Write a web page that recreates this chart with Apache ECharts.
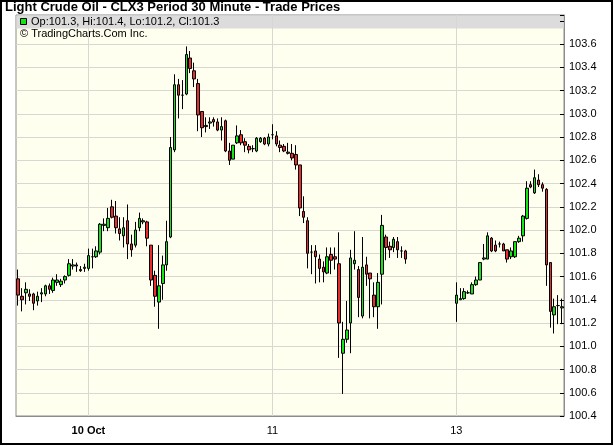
<!DOCTYPE html>
<html><head><meta charset="utf-8">
<script src="https://cdn.jsdelivr.net/npm/echarts@6/dist/echarts.min.js"></script>
<style>html,body{margin:0;padding:0;background:#fff}#c{width:614px;height:446px}</style>
</head><body><div id="c"></div>
<script>
// 30-minute bars, one slot per bar (slots 100-111 have no trades)
const open = [
101.58,101.43,101.46,101.45,101.45,101.39,101.45,101.45,101.52,101.48,
101.55,101.53,101.57,101.61,101.69,101.70,101.66,101.67,101.67,101.77,
101.77,101.81,102.04,102.02,102.20,102.12,102.01,101.95,102.08,101.88,
101.87,102.02,102.07,102.07,101.87,101.61,101.38,101.54,101.70,101.94,
102.69,103.25,103.16,103.17,103.48,103.37,103.26,103.02,102.89,102.92,
102.95,102.93,102.86,102.94,102.68,102.61,102.75,102.82,102.76,102.72,
102.70,102.68,102.76,102.79,102.74,102.82,102.81,102.73,102.72,102.67,
102.66,102.65,102.56,102.16,102.08,101.81,101.82,101.75,101.68,101.63,
101.79,101.77,101.71,100.94,101.06,101.20,101.71,101.66,101.26,101.70,
101.63,101.44,101.34,101.62,101.94,101.86,101.85,101.90,101.82,101.82,
null,null,null,null,null,null,null,null,null,null,null,null,
101.37,101.40,101.41,101.46,101.45,101.53,101.57,101.75,101.75,101.93,
101.87,101.88,101.88,101.83,101.77,101.77,101.90,101.95,102.10,102.39,
102.32,102.43,102.39,102.35,101.72,101.27,101.35,101.33
];
const close = [
101.44,101.40,101.49,101.43,101.37,101.43,101.46,101.52,101.49,101.57,
101.57,101.56,101.60,101.71,101.70,101.69,101.65,101.68,101.78,101.77,
101.82,102.05,102.05,102.10,102.11,102.02,101.97,102.02,101.88,101.83,
102.00,102.10,102.08,101.93,101.57,101.43,101.52,101.70,101.90,102.71,
103.25,103.16,103.16,103.51,103.39,103.30,102.99,102.88,102.90,102.93,
102.93,102.86,102.89,102.68,102.60,102.73,102.81,102.75,102.73,102.69,
102.70,102.79,102.79,102.74,102.80,102.82,102.74,102.71,102.68,102.66,
102.62,102.56,102.19,102.11,101.80,101.81,101.77,101.67,101.64,101.77,
101.74,101.75,101.20,101.06,101.14,101.76,101.74,101.42,101.68,101.62,
101.58,101.34,101.55,102.04,101.85,101.83,101.92,101.83,101.82,101.75,
null,null,null,null,null,null,null,null,null,null,null,null,
101.44,101.41,101.47,101.46,101.53,101.57,101.72,101.76,101.95,101.82,
101.82,101.88,101.82,101.75,101.82,101.90,101.93,102.12,102.36,102.37,
102.45,102.39,102.36,101.70,101.30,101.34,101.35,101.34
];
const high = [
101.66,101.50,101.55,101.49,101.46,101.47,101.50,101.53,101.54,101.59,
101.62,101.58,101.61,101.75,101.75,101.72,101.69,101.71,101.84,101.84,
101.86,102.06,102.10,102.19,102.26,102.25,102.11,102.11,102.22,101.96,
102.07,102.15,102.10,102.08,101.87,101.65,101.87,101.78,102.08,102.80,
103.34,103.30,103.29,103.58,103.54,103.44,103.30,103.02,102.97,102.97,
102.97,102.96,102.97,102.95,102.75,102.73,102.90,102.86,102.79,102.74,
102.73,102.80,102.80,102.80,102.83,102.91,102.85,102.77,102.74,102.75,
102.74,102.73,102.56,102.29,102.11,101.87,101.87,101.79,101.73,101.85,
101.85,101.85,101.98,101.21,101.39,101.83,101.99,101.69,101.94,101.77,
101.63,101.55,101.63,102.13,101.96,101.90,101.94,101.94,101.86,101.83,
null,null,null,null,null,null,null,null,null,null,null,null,
101.55,101.50,101.50,101.48,101.55,101.60,101.72,101.88,101.98,101.94,
101.91,101.90,101.89,101.83,101.85,101.90,101.95,102.13,102.42,102.42,
102.52,102.48,102.41,102.36,101.72,101.41,101.44,101.41
];
const low = [
101.35,101.30,101.36,101.39,101.31,101.35,101.38,101.43,101.45,101.46,
101.52,101.51,101.54,101.60,101.66,101.64,101.64,101.64,101.65,101.67,
101.76,101.79,101.99,101.99,102.10,101.97,101.91,101.85,101.75,101.77,
101.85,101.99,102.05,101.86,101.52,101.34,101.15,101.40,101.65,101.93,
102.67,102.96,103.04,103.16,103.35,103.23,102.85,102.80,102.84,102.87,
102.89,102.85,102.77,102.67,102.56,102.61,102.74,102.73,102.67,102.66,
102.67,102.67,102.75,102.73,102.72,102.78,102.72,102.67,102.67,102.65,
102.60,102.52,102.12,102.06,101.67,101.62,101.54,101.55,101.55,101.62,
101.62,101.66,100.90,100.59,101.03,100.94,101.66,101.25,101.24,101.52,
101.24,101.25,101.15,101.36,101.74,101.76,101.81,101.76,101.76,101.71,
null,null,null,null,null,null,null,null,null,null,null,null,
101.21,101.40,101.40,101.45,101.45,101.52,101.57,101.74,101.75,101.81,
101.81,101.85,101.82,101.72,101.75,101.76,101.89,101.90,102.09,102.36,
102.31,102.37,102.33,101.52,101.16,101.11,101.19,101.19
];
const categories = open.map((_, i) => String(i));
const xTickIndex = [18, 65, 112];
const xTickLabels = ['10 Oct', '11', '13'];
const xTickBold = [true, false, false];
const yMin = 100.4, yTop = 103.85, yStep = 0.2, yLastLabel = 103.6;

const FONT = '"Liberation Sans", Arial, sans-serif';
const GRID = '#d8d8d0';
const UP = '#14e614', DOWN = '#ec2b2b';

const candles = open.map((o, i) => o == null ? '-' : [o, close[i], low[i], high[i]]);
const last = open.length - 1;
const legendText = 'Op:' + open[last].toFixed(1) + ', Hi:' + high[last].toFixed(1) +
  ', Lo:' + low[last].toFixed(1) + ', Cl:' + close[last].toFixed(1);

// split line colours: hide lines above the last labelled value
const yTicks = [];
for (let k = 0; yMin + k * yStep < yTop - 1e-9; k++) yTicks.push(yMin + k * yStep);
yTicks.push(yTop);
const ySplitColors = yTicks.map(v => v <= yLastLabel + 1e-6 ? GRID : 'rgba(0,0,0,0)');

const chart = echarts.init(document.getElementById('c'), null, {renderer: 'canvas'});
chart.setOption({
  animation: false,
  backgroundColor: '#ffffff',
  textStyle: {fontFamily: FONT},
  grid: {left: 16, right: 50, top: 15, bottom: 30, show: true, z: 0,
         backgroundColor: '#fffff0', borderColor: '#8c8c8c', borderWidth: 1},
  xAxis: {
    type: 'category', data: categories, boundaryGap: true, z: 3,
    axisLine: {show: true, lineStyle: {color: '#8c8c8c'}},
    axisTick: {show: false},
    splitLine: {show: true, alignWithLabel: true,
      interval: (idx) => xTickIndex.includes(idx),
      lineStyle: {color: GRID, width: 1}},
    axisLabel: {
      interval: (idx) => xTickIndex.includes(idx),
      margin: 9, color: '#000', fontSize: 11, fontFamily: FONT,
      formatter: (v, idx) => {
        const k = xTickIndex.indexOf(Number(v));
        if (k < 0) return '';
        return xTickBold[k] ? '{b|' + xTickLabels[k] + '}' : xTickLabels[k];
      },
      rich: {b: {fontWeight: 'bold', fontSize: 11, fontFamily: FONT, color: '#000'}}
    }
  },
  yAxis: {
    type: 'value', position: 'right', min: yMin, max: yTop, interval: yStep, z: 3,
    axisLine: {show: true, lineStyle: {color: '#8c8c8c'}},
    axisTick: {show: true, inside: true, length: 4, lineStyle: {color: '#000'}},
    splitLine: {show: true, lineStyle: {color: ySplitColors, width: 1}},
    axisLabel: {margin: 5, color: '#000', fontSize: 11, fontFamily: FONT,
      formatter: v => v <= yLastLabel + 1e-6 ? v.toFixed(1) : ''}
  },
  series: [{
    type: 'candlestick', data: candles, z: 4, barWidth: 3,
    itemStyle: {color: UP, color0: DOWN, borderColor: '#000', borderColor0: '#000',
                borderColorDoji: '#000', borderWidth: 1}
  }],
  graphic: [
    {type: 'rect', z: 1, silent: true, shape: {x: 16.5, y: 15.5, width: 547, height: 13},
     style: {fill: '#dcdcdc'}},
    {type: 'rect', z: 6, silent: true, shape: {x: 20.5, y: 18.5, width: 6, height: 6},
     style: {fill: UP, stroke: '#000', lineWidth: 1}},
    {type: 'text', z: 6, silent: true, x: 31, y: 22,
     style: {text: legendText, font: '11px ' + FONT, fill: '#000', verticalAlign: 'middle'}},
    {type: 'text', z: 6, silent: true, x: 20, y: 34,
     style: {text: '\u00A9 TradingCharts.Com Inc.', font: '11px ' + FONT, fill: '#000', verticalAlign: 'middle'}},
    {type: 'text', z: 6, silent: true, x: 5, y: 7,
     style: {text: 'Light Crude Oil - CLX3 Period 30 Minute - Trade Prices',
             font: 'bold 13px ' + FONT, fill: '#000', verticalAlign: 'middle'}},
    {type: 'rect', z: 7, silent: true, shape: {x: 1, y: 1, width: 611, height: 443},
     style: {fill: null, stroke: '#000', lineWidth: 2}}
  ]
});
</script></body></html>
